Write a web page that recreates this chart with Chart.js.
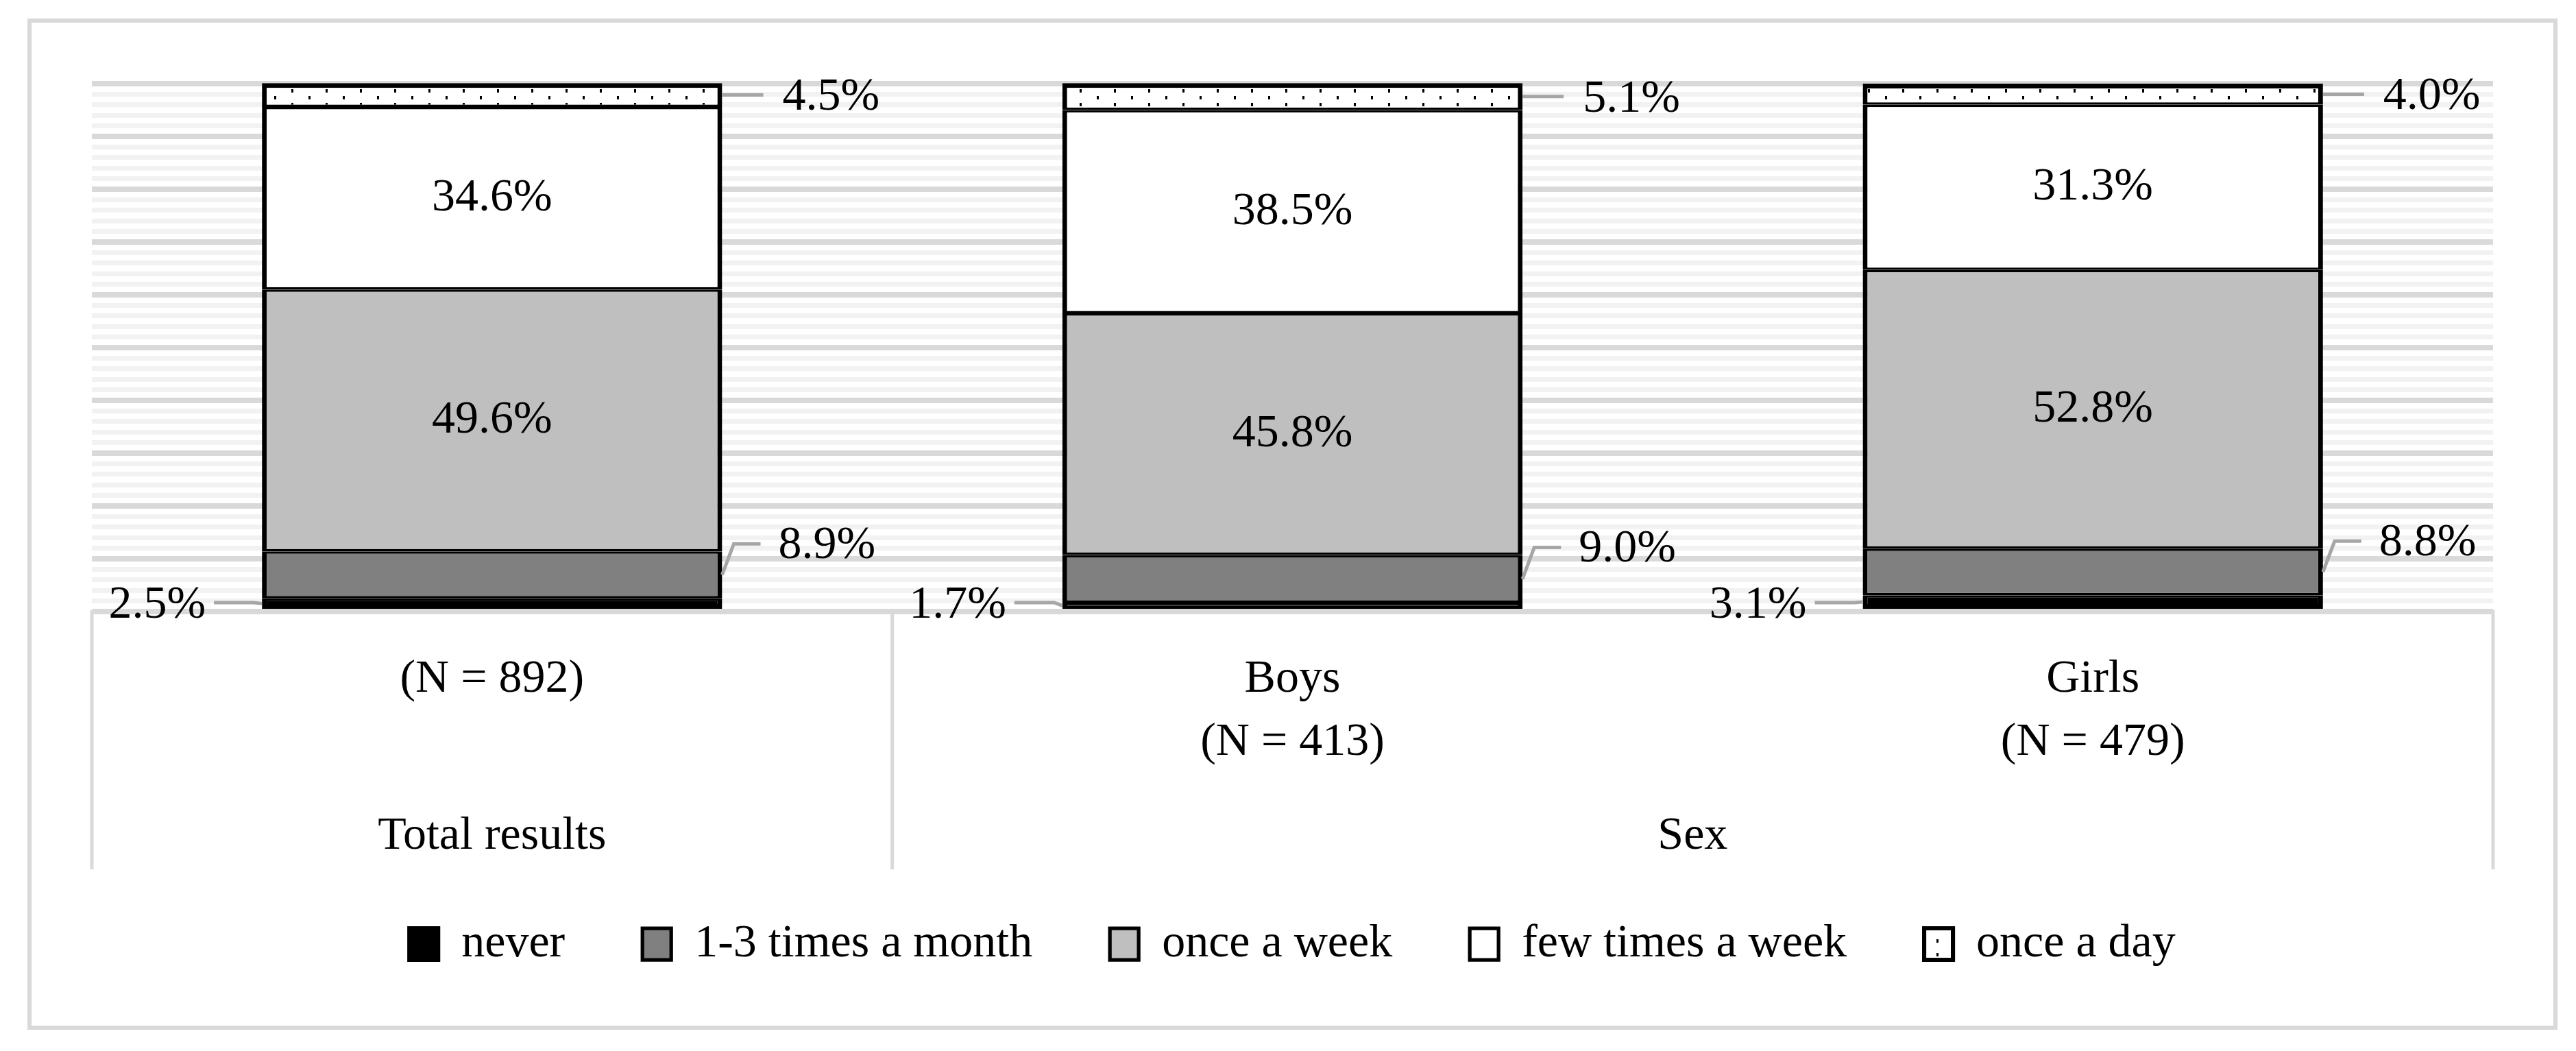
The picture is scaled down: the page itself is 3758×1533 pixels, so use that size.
<!DOCTYPE html>
<html><head><meta charset="utf-8">
<script src="https://cdn.jsdelivr.net/npm/chart.js@4"></script>
<style>html,body{margin:0;padding:0;background:#fff}canvas{display:block}</style>
</head><body>
<canvas id="c" width="3758" height="1533" style="width:3758px;height:1533px"></canvas>
<script>
// ---- data ----
const categories = ['(N = 892)', ['Boys', '(N = 413)'], ['Girls', '(N = 479)']];
const groupLabels = ['Total results', 'Sex'];
const groupSpans = [1, 2];
const seriesNames = ['never', '1-3 times a month', 'once a week', 'few times a week', 'once a day'];
const neverVals = [2.5, 1.7, 3.1];
const monthlyVals = [8.9, 9.0, 8.8];
const weeklyVals = [49.6, 45.8, 52.8];
const fewWeeklyVals = [34.6, 38.5, 31.3];
const dailyVals = [4.5, 5.1, 4.0];
const yMin = 0, yMax = 100, yStep = 2, yMajorEvery = 10;

// ---- style ----
const FONT = 'Liberation Serif';
const FS = 68;
const canvas = document.getElementById('c');
function dotPattern() {
  const c = document.createElement('canvas'); c.width = 50; c.height = 20;
  const g = c.getContext('2d');
  g.fillStyle = '#fff'; g.fillRect(0, 0, 50, 20);
  g.fillStyle = '#000'; g.fillRect(0, 0, 3, 5); g.fillRect(25, 10, 3, 5);
  return canvas.getContext('2d').createPattern(c, 'repeat');
}
const fills = ['#000000', '#808080', '#bfbfbf', '#ffffff', dotPattern()];
const placement = ['left', 'right', 'inside', 'inside', 'right'];
const seriesData = [neverVals, monthlyVals, weeklyVals, fewWeeklyVals, dailyVals];
const nSeries = seriesData.length;

const datasets = seriesData.map((d, i) => ({
  label: seriesNames[i],
  data: d,
  backgroundColor: fills[i],
  borderColor: '#000',
  borderSkipped: false,
  borderWidth: (ctx) => {
    const di = ctx.datasetIndex;
    return { left: 7, right: 7, top: di === nSeries - 1 ? 7 : 3.5, bottom: di === 0 ? 7 : 3.5 };
  },
  categoryPercentage: 1,
  barPercentage: 0.575,
  clip: false
}));

const deco = {
  id: 'deco',
  beforeDraw(chart) {
    const ctx = chart.ctx;
    ctx.save();
    ctx.fillStyle = '#fff'; ctx.fillRect(0, 0, chart.width, chart.height);
    ctx.strokeStyle = '#d9d9d9'; ctx.lineWidth = 6;
    ctx.strokeRect(43, 30, 3685, 1469);
    ctx.restore();
  },
  afterDraw(chart) {
    const ctx = chart.ctx, ca = chart.chartArea;
    ctx.save();
    // group separators & labels
    const cw = (ca.right - ca.left) / categories.length;
    const bounds = [ca.left]; let acc = 0;
    groupSpans.forEach(s => { acc += s; bounds.push(ca.left + acc * cw); });
    ctx.strokeStyle = '#d9d9d9'; ctx.lineWidth = 5;
    bounds.forEach(b => { ctx.beginPath(); ctx.moveTo(b, ca.bottom - 2); ctx.lineTo(b, ca.bottom + 376); ctx.stroke(); });
    ctx.fillStyle = '#000'; ctx.font = `${FS}px "${FONT}"`;
    ctx.textAlign = 'center'; ctx.textBaseline = 'middle';
    groupLabels.forEach((g, i) => ctx.fillText(g, (bounds[i] + bounds[i + 1]) / 2, ca.bottom + 328));
    // data labels
    ctx.lineWidth = 5; ctx.strokeStyle = '#a6a6a6'; ctx.lineCap = 'butt'; ctx.lineJoin = 'miter';
    chart.data.datasets.forEach((ds, di) => {
      const meta = chart.getDatasetMeta(di);
      meta.data.forEach((el, j) => {
        const txt = ds.data[j].toFixed(1) + '%';
        const top = Math.min(el.y, el.base), bot = Math.max(el.y, el.base), mid = (top + bot) / 2;
        const L = el.x - el.width / 2, R = el.x + el.width / 2;
        const p = placement[di];
        if (p === 'inside') {
          ctx.textAlign = 'center'; ctx.fillText(txt, el.x, mid);
        } else if (p === 'left') {
          const ly = bot - 5;
          ctx.beginPath(); ctx.moveTo(L, mid); ctx.lineTo(L - 12, ly - 4); ctx.lineTo(L - 70, ly - 4); ctx.stroke();
          ctx.textAlign = 'right'; ctx.fillText(txt, L - 82, ly);
        } else if (di === 1) {
          const ly = top - 8;
          ctx.beginPath(); ctx.moveTo(R, mid); ctx.lineTo(R + 17, ly - 3); ctx.lineTo(R + 56, ly - 3); ctx.stroke();
          ctx.textAlign = 'left'; ctx.fillText(txt, R + 82, ly);
        } else {
          const ly = mid + 4;
          ctx.beginPath(); ctx.moveTo(R, mid); ctx.lineTo(R + 60, mid); ctx.stroke();
          ctx.textAlign = 'left'; ctx.fillText(txt, R + 88, ly);
        }
      });
    });
    ctx.restore();
  }
};

new Chart(canvas, {
  type: 'bar',
  data: { labels: categories, datasets },
  plugins: [deco],
  options: {
    responsive: false,
    devicePixelRatio: 1,
    animation: false,
    layout: { padding: { left: 134, right: 121, top: 122, bottom: 112 } },
    scales: {
      x: {
        stacked: true,
        grid: { display: false, drawTicks: false },
        border: { display: true, color: '#d9d9d9', width: 5 },
        ticks: { color: '#000', padding: 53, maxRotation: 0, autoSkip: false,
                 font: { family: FONT, size: FS, lineHeight: 1.35 } },
        afterFit(s) { s.height = 338; }
      },
      y: {
        stacked: true, min: yMin, max: yMax,
        ticks: { display: false, stepSize: yStep },
        border: { display: false },
        grid: {
          drawTicks: false,
          color: (c) => (c.tick.value % yMajorEvery === 0 ? '#d9d9d9' : '#f2f2f2'),
          lineWidth: (c) => (c.tick.value % yMajorEvery === 0 ? 8 : 7)
        }
      }
    },
    plugins: {
      legend: {
        position: 'bottom',
        labels: { color: '#000', font: { family: FONT, size: FS }, boxWidth: 42, boxHeight: 46, padding: 113 }
      },
      tooltip: { enabled: false }
    }
  }
});
</script>
</body></html>
